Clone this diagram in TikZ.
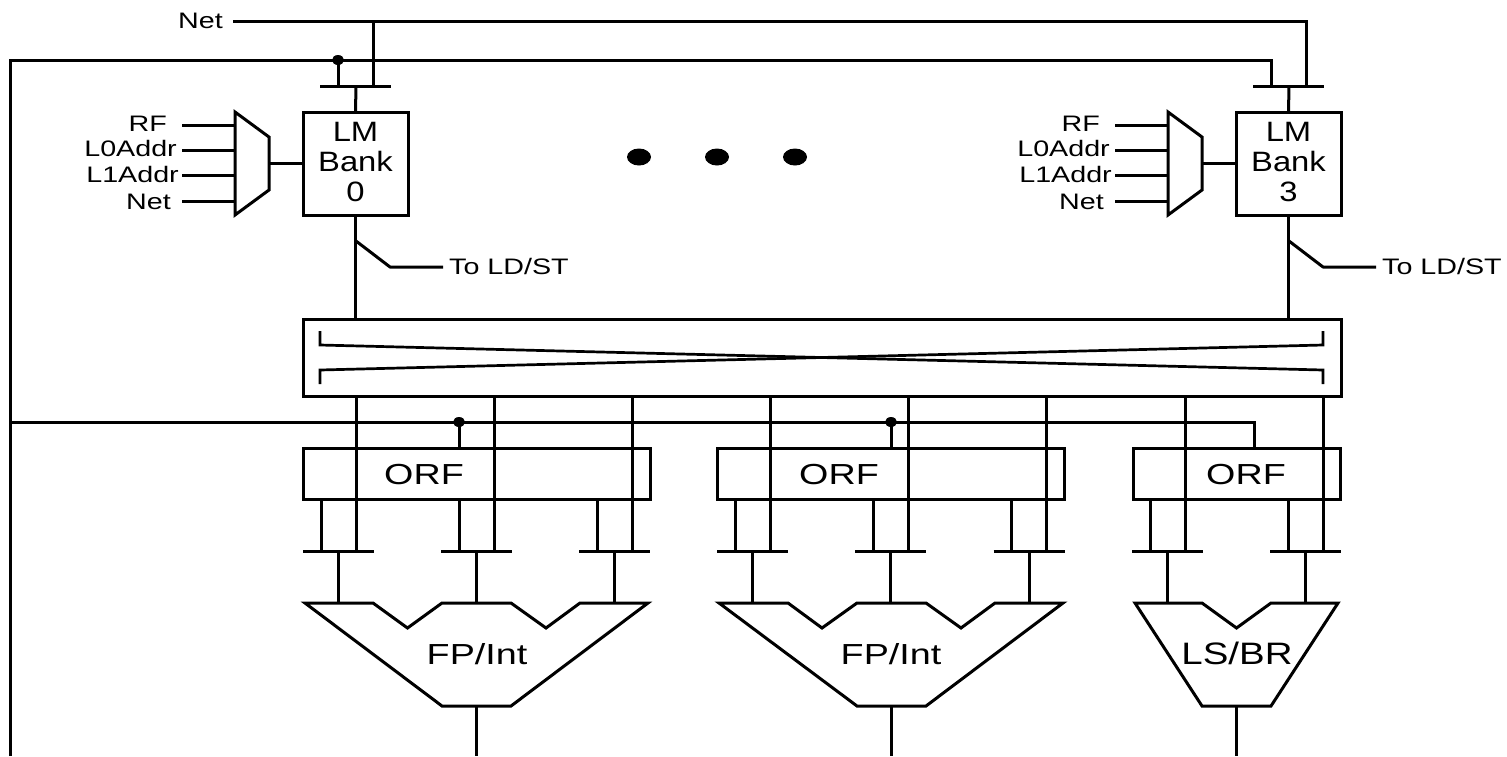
\documentclass[tikz,border=0pt]{standalone}
\usepackage{fontspec}
\usepackage{graphicx}
\setmainfont{Liberation Sans}
\usetikzlibrary{shapes.geometric,calc}
\newcommand{\widesm}[1]{\scalebox{1.28}[1]{#1}}
\newcommand{\widebk}[1]{\scalebox{1.17}[1]{#1}}
\newcommand{\widebg}[1]{\scalebox{1.3}[1]{#1}}
\newcommand{\widels}[1]{\scalebox{1.24}[1]{#1}}
\tikzset{
  wire/.style={line width=3pt},
  thin wire/.style={line width=2.7pt},
  blockbox/.style={draw,line width=3pt,inner sep=0pt,outer sep=0pt},
  big/.style={font=\fontsize{29}{30}\selectfont,inner sep=0pt,anchor=base},
  bankt/.style={font=\fontsize{28}{30}\selectfont,align=center,inner sep=0pt},
  lst/.style={font=\fontsize{31}{30}\selectfont,inner sep=0pt,anchor=base},
  small/.style={font=\fontsize{22.4}{24}\selectfont,inner sep=0pt},
  junction/.style={fill=black,draw=none,ellipse,inner sep=0pt,minimum width=12pt,minimum height=10pt},
  bigdot/.style={fill=black,draw=none,ellipse,inner sep=0pt,minimum width=24pt,minimum height=17pt},
}
\begin{document}
\begin{tikzpicture}[x=1pt,y=-1pt]
\useasboundingbox (0,0) rectangle (1507,756);

% ---------- blocks ----------
\node[blockbox,minimum width=1038pt,minimum height=77pt] (xbar) at (822,357.5) {};
\node[blockbox,minimum width=347pt,minimum height=51pt] (orfA) at (476.5,473.5) {};
\node[blockbox,minimum width=347pt,minimum height=51pt] (orfB) at (891,473.5) {};
\node[blockbox,minimum width=207pt,minimum height=51pt] (orfC) at (1236.5,473.5) {};
\node[big] (tA) at (424,484) {\widebg{ORF}};
\node[big] (tB) at (839,484) {\widebg{ORF}};
\node[big] (tC) at (1246,484) {\widebg{ORF}};

% ---------- network rails ----------
\coordinate (netstart) at (233,21);
\coordinate (railL) at (10,756);
\coordinate (railTop) at (10,60);
\coordinate (railMid) at (10,422);
\node[small,anchor=base east] (nettop) at (223,28) {\widesm{Net}};

% ---------- LM banks ----------
\foreach \p/\dx/\n in {a/0/0,b/933/3}{
\begin{scope}[shift={(\dx,0)},name prefix=\p-]
  \node[blockbox,minimum width=105pt,minimum height=103pt] (lm) at (355.5,163.5) {};
  \node[bankt] (lmt) at (355.5,161.5) {\widebk{LM}\\\widebk{Bank}\\\widebk{\n}};
  \coordinate (gl) at (320,86);
  \coordinate (gr) at (391,86);
  \coordinate (gm) at (356,86);
  \coordinate (sel) at (338,86);
  \coordinate (dat) at (373,86);
  \draw[wire] (gl) -- (gr);
  \draw[wire] (gm) -- (lm.north);
  % mux
  \draw[wire,line join=miter] (235,112) coordinate (m1) -- (269,137) -- (269,190) -- (235,215) coordinate (m2) -- cycle;
  \coordinate (mo) at (269,163.5);
  \draw[wire] (mo) -- (lm.west);
  \foreach \y/\t/\q/\bl in {125/RF/167/131,150/L0Addr/177/156,175/L1Addr/179/182,201/Net/171/209}{
    \coordinate (i\y) at (182,\y);
    \coordinate (o\y) at (235,\y);
    \draw[wire] (i\y) -- (o\y);
    \node[small,anchor=base east] (l\y) at (\q,\bl) {\widesm{\t}};
  }
  % to load/store
  \coordinate (tap) at (356,241);
  \coordinate (k1) at (390,267);
  \coordinate (k2) at (443,267);
  \draw[wire,line join=bevel] (tap) -- (k1) -- (k2);
  \node[small,anchor=base west] (ldst) at (449,274) {\widesm{To LD/ST}};
\end{scope}
\draw[wire] (\p-lm.south) -- (\p-lm.south |- xbar.north);
}

% Net rail and select rail
\draw[wire] (netstart) -- (1306,21) coordinate (netR) -- (netR |- b-dat);
\draw[wire] (netstart -| a-dat) -- (a-dat);
\draw[wire,line join=miter] (railL) -- (railTop) -- (railTop -| b-sel) -- (b-sel);
\node[junction] (j0) at (338,60) {};
\draw[wire] (j0.center) -- (a-sel);

% ---------- crossbar interior ----------
\coordinate (xa) at (320,331); \coordinate (xb) at (320,345);
\coordinate (xc) at (320,370); \coordinate (xd) at (320,384);
\coordinate (xe) at (1323,331); \coordinate (xf) at (1323,345);
\coordinate (xg) at (1323,370); \coordinate (xh) at (1323,384);
\draw[thin wire,line join=miter] (xa) -- (xb) -- (xg) -- (xh);
\draw[thin wire,line join=miter] (xd) -- (xc) -- (xf) -- (xe);

% ---------- operand rail ----------
\draw[wire,line join=miter] (railMid) -- (1254,422) coordinate (mr) -- (mr |- orfC.north);
\node[junction] (j1) at (459,422) {};
\node[junction] (j2) at (891,422) {};
\draw[wire] (j1.center) -- (j1 |- orfA.north);
\draw[wire] (j2.center) -- (j2 |- orfB.north);

% ---------- pass gates ----------
\foreach \g/\x/\o in {g1/303/orfA,g2/441/orfA,g3/579/orfA,g4/717/orfB,g5/855/orfB,g6/993.5/orfB,g7/1132/orfC,g8/1270/orfC}{
  \coordinate (\g-l) at (\x,551);
  \coordinate (\g-r) at ({\x+71},551);
  \coordinate (\g-s) at ({\x+18},551);
  \coordinate (\g-d) at ({\x+53},551);
  \coordinate (\g-m) at ({\x+35.5},551);
  \coordinate (\g-b) at ({\x+35.5},603);
  \draw[wire] (\g-l) -- (\g-r);
  \draw[wire] (\g-s |- \o.south) -- (\g-s);
  \draw[wire] (\g-d |- xbar.south) -- (\g-d);
  \draw[wire] (\g-m) -- (\g-b);
}

% ---------- function units ----------
\tikzset{alu/.style={wire,line join=miter}}
\draw[alu] (305,603) -- (373,603) -- (407.5,628) -- (442,603) -- (511,603) -- (546,628) -- (580,603) -- (648,603) -- (511,706) coordinate (ua1) -- (442,706) coordinate (ua2) -- cycle;
\draw[alu] (719,603) -- (788,603) -- (822,628) -- (857,603) -- (926,603) -- (961,628) -- (995,603) -- (1063,603) -- (926,706) coordinate (ub1) -- (857,706) coordinate (ub2) -- cycle;
\draw[alu] (1135,603) -- (1202,603) -- (1236.5,628) -- (1271,603) -- (1338,603) -- (1271,706) coordinate (uc1) -- (1202,706) coordinate (uc2) -- cycle;
\node[big] (fa) at (477,664) {\widebg{FP/Int}};
\node[big] (fb) at (891,664) {\widebg{FP/Int}};
\node[lst] (fc) at (1237,664) {\widels{LS/BR}};
\coordinate (ea) at (476.5,756);
\coordinate (eb) at (891.5,756);
\coordinate (ec) at (1236.5,756);
\draw[wire] ($(ua1)!0.5!(ua2)$) -- (ea);
\draw[wire] ($(ub1)!0.5!(ub2)$) -- (eb);
\draw[wire] ($(uc1)!0.5!(uc2)$) -- (ec);

% ---------- ellipsis dots ----------
\node[bigdot] (d1) at (639,157) {};
\node[bigdot] (d2) at (717,157) {};
\node[bigdot] (d3) at (795,157) {};
\end{tikzpicture}
\end{document}
